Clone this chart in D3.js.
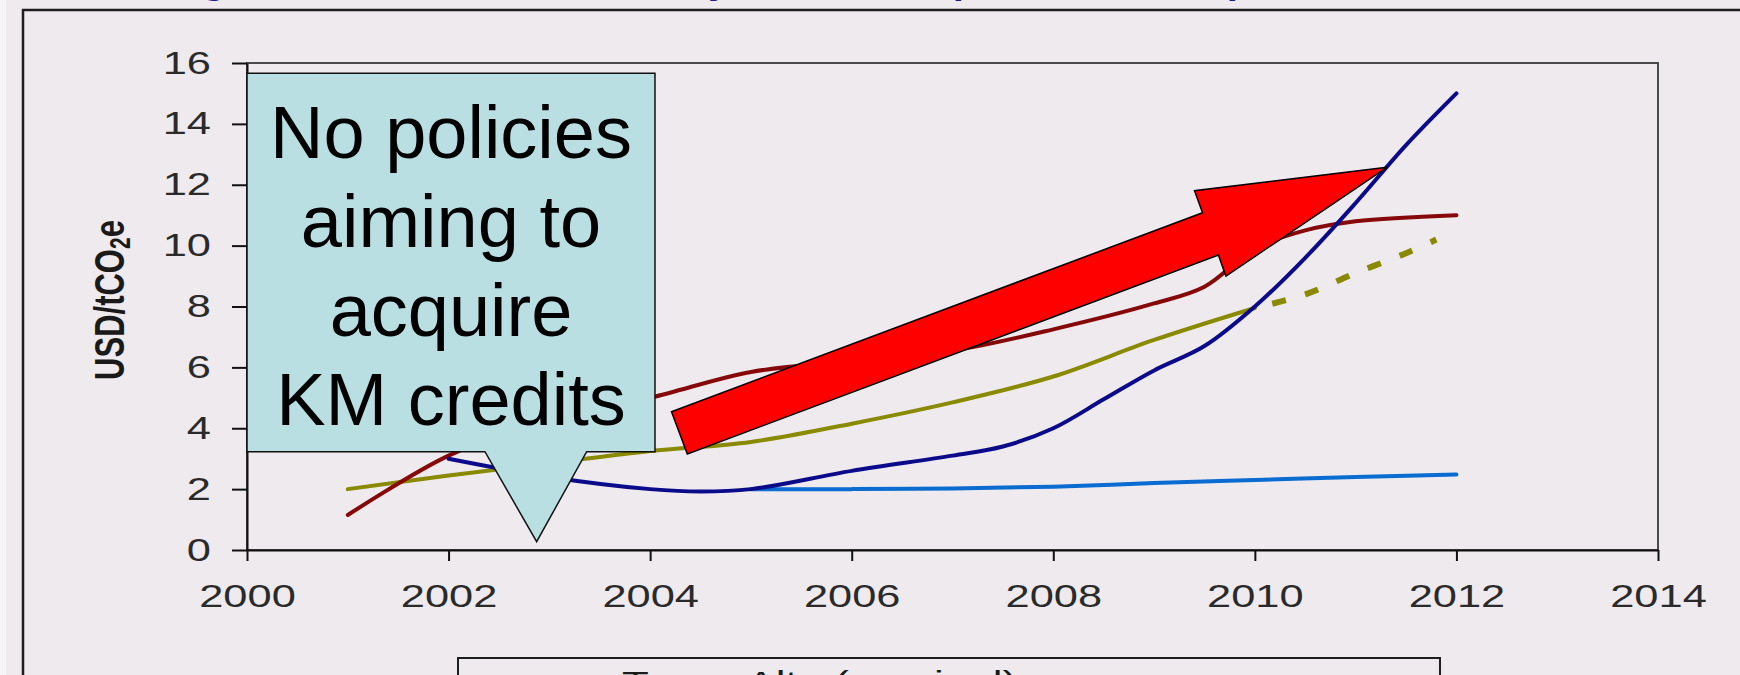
<!DOCTYPE html>
<html><head><meta charset="utf-8">
<script src="https://cdn.jsdelivr.net/npm/d3@7"></script>
<style>
body{margin:0;background:#eeeaee;overflow:hidden}
svg{display:block}
</style></head>
<body><svg id="c" width="1740" height="675"></svg>
<script>
// ---- data ----
const maroonYears = [2001,2002,2003,2004,2005,2006,2007,2008,2009,2009.5,2010,2010.5,2011,2012];
const maroonVals  = [1.15,3.1,4.3,5.0,5.85,6.2,6.55,7.25,8.1,8.65,9.9,10.5,10.8,11.0];

const oliveYears = [2001,2002,2003,2004,2005,2006,2007,2008,2009,2010];
const oliveVals  = [2.0,2.45,2.85,3.25,3.55,4.15,4.85,5.7,6.9,7.95];

const oliveDashYears = [2010,2010.5,2011,2011.5,2011.8];
const oliveDashVals  = [7.95,8.4,9.1,9.75,10.2];

const navyYears = [2002,2003,2004,2004.5,2005,2006,2007,2007.5,2008,2008.5,2009,2009.5,2010,2010.5,2011,2011.5,2012];
const navyVals  = [3.0,2.4,2.0,1.92,2.0,2.6,3.1,3.4,4.0,4.95,5.9,6.7,8.0,9.6,11.4,13.3,15.0];

const blueYears = [2005,2006,2007,2008,2009,2010,2011,2012];
const blueVals  = [2.0,2.0,2.02,2.08,2.2,2.3,2.4,2.48];

const xTicks = [2000,2002,2004,2006,2008,2010,2012,2014];
const yTicks = [0,2,4,6,8,10,12,14,16];

const yLabel = "USD/tCO";
const calloutLines = ["No policies","aiming to","acquire","KM credits"];
const legendText = "Tasso Alto (nominal)";

// annotation shapes in data units
const arrowPts = [[2004.212,4.543],[2009.481,11.081],[2009.401,11.804],[2011.311,12.572],[2009.713,9.001],[2009.638,9.691],[2004.369,3.154]];
const calloutPts = [[2000.0,15.66],[2004.048,15.66],[2004.048,3.229],[2003.370,3.229],[2002.874,0.273],[2002.361,3.229],[2000.0,3.229]];

// ---- drawing ----
const svg = d3.select("#c");
const STRETCH = 1.4;
const x = d3.scaleLinear().domain([2000,2014]).range([247,1658]);
const y = d3.scaleLinear().domain([0,16]).range([550,63]);

svg.append("rect").attr("x",0).attr("y",0).attr("width",1740).attr("height",675).attr("fill","#eeeaee");
svg.append("rect").attr("x",0).attr("y",0).attr("width",6).attr("height",675).attr("fill","#f6f4f6");

// title (only descenders visible at the top edge)
const title = svg.append("text").attr("y",-7).attr("fill","#1c1c8a")
  .attr("font-family","Liberation Sans, Arial, sans-serif").attr("font-weight","bold").attr("font-size",40)
  .attr("text-anchor","middle");
[["g",214],["y",719],["p",965],["p",1239]].forEach(([t,px])=>title.append("tspan").attr("x",px).text(t));

svg.append("rect").attr("x",23).attr("y",10).attr("width",1760).attr("height",700)
  .attr("fill","none").attr("stroke","#1e1e1e").attr("stroke-width",2.5);

// plot border
svg.append("rect").attr("x",x(2000)).attr("y",y(16)).attr("width",x(2014)-x(2000)).attr("height",y(0)-y(16))
  .attr("fill","none").attr("stroke","#4a4a4a").attr("stroke-width",2);

const font = "Liberation Sans, Arial, Helvetica, sans-serif";

// axes
const gy = svg.append("g").attr("transform",`translate(${x(2000)},0)`)
  .call(d3.axisLeft(y).tickValues(yTicks).tickSize(15).tickSizeOuter(0).tickFormat(d3.format("d")));
const gx = svg.append("g").attr("transform",`translate(0,${y(0)})`)
  .call(d3.axisBottom(x).tickValues(xTicks).tickSize(11).tickSizeOuter(0).tickFormat(d3.format("d")));
[gx,gy].forEach(g=>{
  g.select(".domain").attr("stroke","#111").attr("stroke-width",2);
  g.selectAll(".tick line").attr("stroke","#111").attr("stroke-width",2);
  g.selectAll(".tick text").attr("fill","#2a2a2a").attr("font-family",font).attr("font-size",31);
});
gy.selectAll(".tick text").attr("x",0).attr("dy",null).attr("text-anchor","end")
  .attr("transform",`translate(-36,10) scale(${STRETCH},1)`);
gx.selectAll(".tick text").attr("y",0).attr("dy",null).attr("text-anchor","middle")
  .attr("transform",`translate(0,57) scale(${STRETCH},1)`);

// y axis title
const yt = svg.append("text").attr("transform",`translate(124,300) scale(${STRETCH},1) rotate(-90)`)
  .attr("text-anchor","middle").attr("font-family",font).attr("font-weight","bold").attr("font-size",31).attr("fill","#1a1a1a");
yt.append("tspan").text(yLabel);
yt.append("tspan").attr("font-size",21).attr("dy",4).text("2");
yt.append("tspan").attr("dy",-4).text("e");

// lines
const line = d3.line().x(d=>x(d[0])).y(d=>y(d[1])).curve(d3.curveCatmullRom.alpha(0.5));
const zip = (a,b)=>a.map((v,i)=>[v,b[i]]);
svg.append("path").datum(zip(blueYears,blueVals)).attr("d",line)
  .attr("fill","none").attr("stroke","#0a6bd0").attr("stroke-width",4).attr("stroke-linecap","round");
svg.append("path").datum(zip(oliveYears,oliveVals)).attr("d",line)
  .attr("fill","none").attr("stroke","#8a8a00").attr("stroke-width",4).attr("stroke-linecap","round");
svg.append("path").datum(zip(oliveDashYears,oliveDashVals)).attr("d",line)
  .attr("fill","none").attr("stroke","#8a8a00").attr("stroke-width",6).attr("stroke-dasharray","14,20").attr("stroke-dashoffset",-18);
svg.append("path").datum(zip(maroonYears,maroonVals)).attr("d",line)
  .attr("fill","none").attr("stroke","#860808").attr("stroke-width",4).attr("stroke-linecap","round");
svg.append("path").datum(zip(navyYears,navyVals)).attr("d",line)
  .attr("fill","none").attr("stroke","#0a0a8a").attr("stroke-width",4).attr("stroke-linecap","round");

// red arrow
svg.append("path").attr("d", d3.line().x(d=>x(d[0])).y(d=>y(d[1]))(arrowPts)+"Z")
  .attr("fill","#ff0000").attr("stroke","#000").attr("stroke-width",1.5).attr("stroke-linejoin","miter");

// callout
svg.append("path").attr("d", d3.line().x(d=>x(d[0])).y(d=>y(d[1]))(calloutPts)+"Z")
  .attr("fill","#b9dfe3").attr("stroke","#111").attr("stroke-width",1.5);
const ct = svg.append("text").attr("font-family",font).attr("font-size",74).attr("fill","#000").attr("text-anchor","middle");
calloutLines.forEach((t,i)=>ct.append("tspan").attr("x",451).attr("y",158+i*89).text(t));

// legend box (cut off at bottom)
svg.append("rect").attr("x",458).attr("y",658).attr("width",982).attr("height",80)
  .attr("fill","#eeeaee").attr("stroke","#1e1e1e").attr("stroke-width",2);
svg.append("text").attr("x",622).attr("y",692).attr("font-family",font).attr("font-size",30).attr("fill","#1a1a1a")
  .attr("textLength",395).attr("lengthAdjust","spacingAndGlyphs").text(legendText);
</script>
</body></html>
